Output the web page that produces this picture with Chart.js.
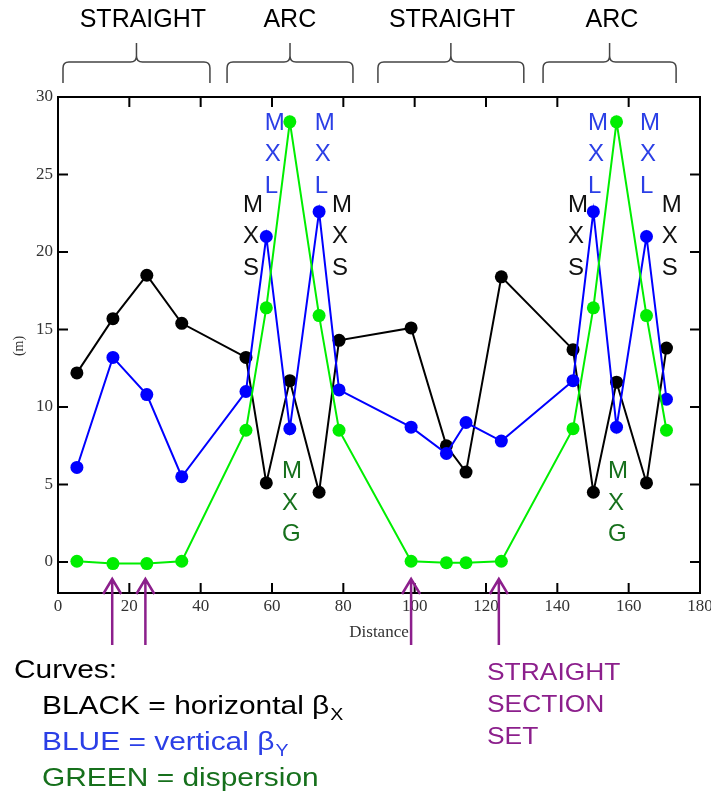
<!DOCTYPE html>
<html>
<head>
<meta charset="utf-8">
<style>
  html, body { margin: 0; padding: 0; background: #fff; }
  canvas { display: block; }
</style>
</head>
<body>
<canvas id="myChart" width="711" height="796"></canvas>
<script src="https://cdn.jsdelivr.net/npm/chart.js@4.4.1/dist/chart.umd.min.js"></script>
<script>
// Data

var distance = [5.3, 15.4, 24.9, 34.7, 52.7, 58.4, 65.0, 73.2, 78.8, 99.0, 108.9, 114.4, 124.3, 144.4, 150.1, 156.6, 165.0, 170.6];
var betaX = [12.2, 15.7, 18.5, 15.4, 13.2, 5.1, 11.7, 4.5, 14.3, 15.1, 7.5, 5.8, 18.4, 13.7, 4.5, 11.6, 5.1, 13.8];
var betaY = [6.1, 13.2, 10.8, 5.5, 11.0, 21.0, 8.6, 22.6, 11.1, 8.7, 7.0, 9.0, 7.8, 11.7, 22.6, 8.7, 21.0, 10.5];
var dispersion = [0.05, -0.1, -0.1, 0.05, 8.5, 16.4, 28.4, 15.9, 8.5, 0.05, -0.05, -0.05, 0.05, 8.6, 16.4, 28.4, 15.9, 8.5];

var xTicks = [0, 20, 40, 60, 80, 100, 120, 140, 160, 180];
var yTicks = [0, 5, 10, 15, 20, 25, 30];

// Annotations (in distance / metre units)

var sectionNames = ['STRAIGHT', 'ARC', 'STRAIGHT', 'ARC'];
var sectionStart = [1.4, 47.4, 89.7, 136.0];
var sectionEnd = [42.6, 82.7, 130.6, 173.3];
var sectionLabelX = [23.8, 65.0, 110.5, 155.3];

var magnetText = ['MXS', 'MXL', 'MXL', 'MXS', 'MXS', 'MXL', 'MXL', 'MXS', 'MXG', 'MXG'];
var magnetX = [51.9, 58.0, 72.0, 76.8, 143.0, 148.6, 163.2, 169.3, 62.8, 154.2];
var magnetY = [22.6, 27.9, 27.9, 22.6, 22.6, 27.9, 27.9, 22.6, 5.4, 5.4];

var setPositions = [15.2, 24.5, 99.0, 123.6];

var BLUE_TXT = '#2b3fe6';
var GREEN_TXT = '#16701c';
var PURPLE = '#8c1f8c';
var SANS = '"Liberation Sans", Arial, sans-serif';
var SERIF = '"Liberation Serif", "Times New Roman", serif';

function points(values) {
    return distance.map(function (d, i) {
        return { x: d, y: values[i] };
    });
}

// Extra drawing: frame, inward ticks, labels, braces, arrows

function brace(ctx, x1, x2, y) {
    var xm = (x1 + x2) / 2, r = 6;
    ctx.beginPath();
    ctx.moveTo(x1, y + 21);
    ctx.lineTo(x1, y + r);
    ctx.quadraticCurveTo(x1, y, x1 + r, y);
    ctx.lineTo(xm - r, y);
    ctx.quadraticCurveTo(xm, y, xm, y - r);
    ctx.lineTo(xm, y - 19);
    ctx.moveTo(xm, y - r);
    ctx.quadraticCurveTo(xm, y, xm + r, y);
    ctx.lineTo(x2 - r, y);
    ctx.quadraticCurveTo(x2, y, x2, y + r);
    ctx.lineTo(x2, y + 21);
    ctx.stroke();
}

// the notes in the picture are a bit wider than the font, so stretch them
function wideText(ctx, str, x, y, stretch) {
    ctx.save();
    ctx.translate(x, y);
    ctx.scale(stretch, 1);
    ctx.fillText(str, 0, 0);
    var w = ctx.measureText(str).width * stretch;
    ctx.restore();
    return w;
}

function textWithSub(ctx, main, sub, x, y, color) {
    ctx.fillStyle = color;
    ctx.font = '26px ' + SANS;
    var w = wideText(ctx, main, x, y, 1.15);
    ctx.font = '17px ' + SANS;
    wideText(ctx, sub, x + w + 1, y + 6, 1.15);
}

var extras = {
    id: 'extras',
    afterDraw: function (chart) {
        var ctx = chart.ctx;
        var a = chart.chartArea;
        var sx = chart.scales.x, sy = chart.scales.y;
        ctx.save();

        // frame
        ctx.strokeStyle = '#000';
        ctx.lineWidth = 2;
        ctx.strokeRect(a.left, a.top, a.right - a.left, a.bottom - a.top);

        // ticks pointing inward
        ctx.lineWidth = 2;
        ctx.beginPath();
        xTicks.forEach(function (t) {
            if (t === 0 || t === 180) return;
            var px = sx.getPixelForValue(t);
            ctx.moveTo(px, a.bottom);
            ctx.lineTo(px, a.bottom - 10);
            ctx.moveTo(px, a.top);
            ctx.lineTo(px, a.top + 10);
        });
        yTicks.forEach(function (t) {
            if (t === 30) return;
            var py = sy.getPixelForValue(t);
            ctx.moveTo(a.left, py);
            ctx.lineTo(a.left + 10, py);
            ctx.moveTo(a.right, py);
            ctx.lineTo(a.right - 10, py);
        });
        ctx.stroke();

        // axis titles
        ctx.fillStyle = '#333';
        ctx.font = '17px ' + SERIF;
        ctx.textAlign = 'center';
        ctx.fillText('Distance', sx.getPixelForValue(90), 637);
        ctx.save();
        ctx.translate(23, 346);
        ctx.rotate(-Math.PI / 2);
        ctx.font = '14px ' + SERIF;
        ctx.fillText('(m)', 0, 0);
        ctx.restore();

        // section headings and braces
        ctx.fillStyle = '#000';
        ctx.font = '25px ' + SANS;
        for (var i = 0; i < sectionNames.length; i++) {
            ctx.fillText(sectionNames[i], sx.getPixelForValue(sectionLabelX[i]), 27);
        }
        ctx.strokeStyle = '#444';
        ctx.lineWidth = 1.5;
        for (var i = 0; i < sectionNames.length; i++) {
            brace(ctx, sx.getPixelForValue(sectionStart[i]), sx.getPixelForValue(sectionEnd[i]), 62);
        }

        // magnet labels
        ctx.textAlign = 'left';
        ctx.font = '24px ' + SANS;
        for (var i = 0; i < magnetText.length; i++) {
            var name = magnetText[i];
            ctx.fillStyle = name === 'MXS' ? '#111' : (name === 'MXL' ? BLUE_TXT : GREEN_TXT);
            var px = sx.getPixelForValue(magnetX[i]);
            var py = sy.getPixelForValue(magnetY[i]);
            for (var k = 0; k < name.length; k++) {
                ctx.fillText(name[k], px, py + k * 31.5);
            }
        }

        // straight section set arrows
        ctx.strokeStyle = PURPLE;
        ctx.lineWidth = 2.5;
        setPositions.forEach(function (d) {
            var px = sx.getPixelForValue(d);
            ctx.beginPath();
            ctx.moveTo(px, 645);
            ctx.lineTo(px, 579);
            ctx.moveTo(px - 9, 594);
            ctx.lineTo(px, 579);
            ctx.lineTo(px + 9, 594);
            ctx.stroke();
        });

        // notes under the chart
        ctx.fillStyle = '#000';
        ctx.font = '26px ' + SANS;
        wideText(ctx, 'Curves:', 14, 678, 1.15);
        textWithSub(ctx, 'BLACK = horizontal \u03b2', 'X', 42, 714, '#000');
        textWithSub(ctx, 'BLUE = vertical \u03b2', 'Y', 42, 750, BLUE_TXT);
        ctx.font = '26px ' + SANS;
        ctx.fillStyle = GREEN_TXT;
        wideText(ctx, 'GREEN = dispersion', 42, 786, 1.15);

        ctx.fillStyle = PURPLE;
        ctx.font = '24px ' + SANS;
        wideText(ctx, 'STRAIGHT', 487, 680, 1.1);
        wideText(ctx, 'SECTION', 487, 712, 1.1);
        wideText(ctx, 'SET', 487, 744, 1.1);

        ctx.restore();
    }
};

// Graph

var ctx = document.getElementById('myChart').getContext('2d');
var chart = new Chart(ctx, {
    type: 'scatter',
    data: {
        datasets: [{
                label: 'horizontal beta',
                data: points(betaX),
                showLine: true,
                borderColor: '#000',
                backgroundColor: '#000',
                borderWidth: 2,
                pointRadius: 6.5,
                pointBorderWidth: 0,
                order: 3
            },
            {
                label: 'vertical beta',
                data: points(betaY),
                showLine: true,
                borderColor: '#0000ff',
                backgroundColor: '#0000ff',
                borderWidth: 2,
                pointRadius: 6.5,
                pointBorderWidth: 0,
                order: 2
            },
            {
                label: 'dispersion',
                data: points(dispersion),
                showLine: true,
                borderColor: '#00ee00',
                backgroundColor: '#00ee00',
                borderWidth: 2,
                pointRadius: 6.5,
                pointBorderWidth: 0,
                order: 1
            }
        ]
    },
    options: {
        responsive: false,
        animation: false,
        layout: { padding: { left: 0, top: 97, right: 11, bottom: 0 } },
        plugins: {
            legend: { display: false },
            tooltip: { enabled: false }
        },
        scales: {
            x: {
                type: 'linear',
                min: 0,
                max: 180,
                afterFit: function (s) {
                    s.height = 203;
                    s.paddingLeft = 0;
                    s.paddingRight = 0;
                },
                afterBuildTicks: function (s) {
                    s.ticks = xTicks.map(function (v) { return { value: v }; });
                },
                grid: { display: false, drawTicks: false },
                border: { display: false },
                ticks: {
                    padding: 3,
                    color: '#333',
                    font: { family: SERIF, size: 17 }
                }
            },
            y: {
                type: 'linear',
                min: -2,
                max: 30,
                afterFit: function (s) {
                    s.width = 58;
                    s.paddingTop = 0;
                    s.paddingBottom = 0;
                },
                afterBuildTicks: function (s) {
                    s.ticks = yTicks.map(function (v) { return { value: v }; });
                },
                grid: { display: false, drawTicks: false },
                border: { display: false },
                ticks: {
                    padding: 5,
                    color: '#333',
                    font: { family: SERIF, size: 17 }
                }
            }
        }
    },
    plugins: [extras]
});
</script>
</body>
</html>
